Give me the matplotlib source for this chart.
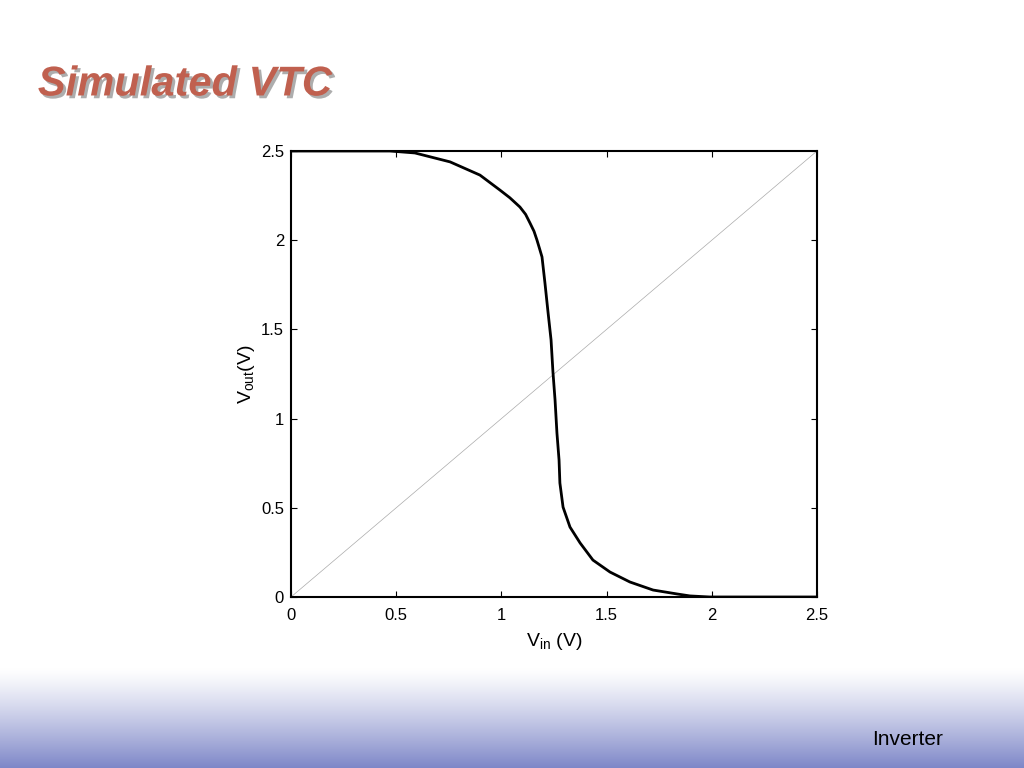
import numpy as np
import matplotlib.pyplot as plt
import matplotlib.patheffects as pe

plt.rcParams['font.family'] = ['Liberation Sans', 'DejaVu Sans']
plt.rcParams['mathtext.fontset'] = 'custom'
plt.rcParams['mathtext.rm'] = 'Liberation Sans'

# VTC
vin = [0.0, 0.47, 0.589, 0.756, 0.898, 0.993, 1.04, 1.088, 1.115, 1.136,
       1.155, 1.169, 1.182, 1.193, 1.207, 1.222, 1.236, 1.245, 1.255, 1.264,
       1.274, 1.278, 1.293, 1.326, 1.374, 1.435, 1.516, 1.611, 1.721, 1.835,
       1.896, 1.99, 2.5]
vout = [2.5, 2.5, 2.489, 2.439, 2.365, 2.281, 2.238, 2.186, 2.145, 2.096,
        2.05, 2.001, 1.95, 1.906, 1.760, 1.592, 1.441, 1.261, 1.104, 0.919,
        0.768, 0.639, 0.504, 0.392, 0.303, 0.207, 0.140, 0.084, 0.039, 0.017,
        0.006, 0.0, 0.0]
diag = [0.0, 2.5]
ticks = [0, 0.5, 1, 1.5, 2, 2.5]
tick_labels = ['0', '0.5', '1', '1.5', '2', '2.5']

fig = plt.figure(figsize=(10.24, 7.68), dpi=100)

# bottom gradient band
bg = fig.add_axes([0, 0, 1, 100 / 768])
grad = np.linspace(0, 1, 256)[:, None]
top = np.array([1.0, 1.0, 1.0])
bot = np.array([126, 135, 200]) / 255
img = top + (bot - top) * grad[..., None] ** 1.2
bg.imshow(img, aspect='auto', extent=[0, 1, 0, 1])
bg.set_axis_off()
fig.text(943 / 1024, 0.037, 'Inverter', fontsize=15, ha='right', va='center')

# title
fig.text(0.037, 0.89, 'Simulated VTC', fontsize=30, fontweight='bold',
         fontstyle='italic', color='#c0604f', va='center',
         path_effects=[pe.withSimplePatchShadow(offset=(2, -2),
                                                shadow_rgbFace='#999999',
                                                alpha=0.8)])

ax = fig.add_axes([291 / 1024, 1 - 597 / 768, 526 / 1024, 446 / 768])
ax.plot(diag, diag, color='#aaaaaa', linewidth=0.5)
ax.plot(vin, vout, color='black', linewidth=2)
ax.set_xlim(0, 2.5)
ax.set_ylim(0, 2.5)
ax.set_xticks(ticks)
ax.set_xticklabels(tick_labels)
ax.set_yticks(ticks)
ax.set_yticklabels(tick_labels)
ax.tick_params(direction='in', top=True, right=True, length=4, labelsize=12)
ax.tick_params(axis='x', pad=8)
ax.tick_params(axis='y', pad=5)
for s in ax.spines.values():
    s.set_linewidth(1.5)
ax.set_xlabel(r'V$_{\mathrm{in}}$ (V)', fontsize=14, labelpad=6)
ax.set_ylabel(r'V$_{\mathrm{out}}$(V)', fontsize=14, labelpad=3)

fig.savefig('out.png', dpi=100)
